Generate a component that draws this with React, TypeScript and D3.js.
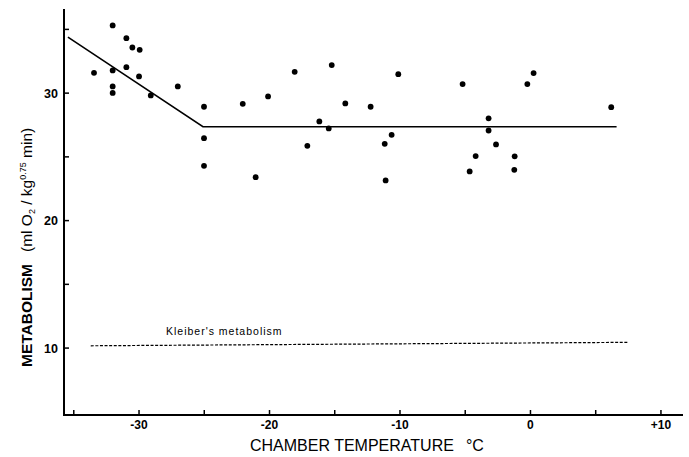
import * as d3 from "d3";

// chamber temperature (°C) and metabolism (ml O2 / kg^0.75 min) per measurement
const temps = [
  -33.45, -32.02, -30.97, -30.51, -29.95, -32.02, -30.97, -30.0, -32.02, -32.02,
  -29.1, -27.03, -25.02, -25.02, -25.02, -22.05, -21.06, -20.11, -18.07, -17.1,
  -16.18, -15.46, -15.23, -14.19, -12.25, -10.13, -10.64, -11.17, -11.1, -5.2,
  -3.21, -3.21, -2.64, -4.2, -4.66, -1.21, -1.24, -0.24, 0.24, 6.19,
];
const metabolism = [
  31.59, 35.31, 34.31, 33.58, 33.4, 31.78, 32.04, 31.31, 30.53, 30.02,
  29.82, 30.53, 28.93, 26.47, 24.3, 29.16, 23.41, 29.74, 31.67, 25.87,
  27.78, 27.23, 32.2, 29.19, 28.93, 31.49, 26.73, 26.02, 23.15, 30.71,
  28.02, 27.07, 25.98, 25.06, 23.86, 25.04, 23.98, 30.71, 31.57, 28.9,
];

// broken-stick fit
const fitTemps = [-35.45, -25.1, 6.6];
const fitValues = [34.4, 27.36, 27.36];

// Kleiber's predicted metabolism
const kleiberTemps = [-33.7, 7.5];
const kleiberValues = [10.18, 10.45];

const xMajor = [-30, -20, -10, 0, 10];
const xMajorLabels = ["-30", "-20", "-10", "0", "+10"];
const xMinor = [-35, -25, -15, -5, 5];
const yMajor = [10, 20, 30];
const yMinor = [15, 25, 35];

const W = 689;
const H = 457;
const font = "'Liberation Sans', Arial, sans-serif";

export default function App() {
  const x = d3.scaleLinear().domain([-35.75, 11.69]).range([64, 683]);
  const y = d3.scaleLinear().domain([4.75, 36.6]).range([415, 9]);

  const line = d3
    .line<number>()
    .x((_, i) => x(fitTemps[i]))
    .y((d) => y(d));
  const kLine = d3
    .line<number>()
    .x((_, i) => x(kleiberTemps[i]))
    .y((d) => y(d));

  const [x0, x1] = x.range();
  const [yb, yt] = y.range();

  return (
    <svg
      width={W}
      height={H}
      style={{ position: "absolute", left: 0, top: 0, background: "#fff" }}
      fontFamily={font}
    >
      {/* axes */}
      <line x1={x0} x2={x0} y1={yt} y2={yb + 1} stroke="#000" strokeWidth={2} />
      <line x1={x0 - 1} x2={x1} y1={yb} y2={yb} stroke="#000" strokeWidth={2} />

      {xMajor.concat(xMinor).map((t) => (
        <line key={"xt" + t} x1={x(t)} x2={x(t)} y1={yb} y2={yb - 5} stroke="#000" strokeWidth={1.5} />
      ))}
      {yMajor.concat(yMinor).map((t) => (
        <line key={"yt" + t} x1={x0} x2={x0 + 5} y1={y(t)} y2={y(t)} stroke="#000" strokeWidth={1.5} />
      ))}

      {xMajor.map((t, i) => (
        <text key={"xl" + t} x={x(t)} y={429} textAnchor="middle" fontSize={12} fontWeight="bold">
          {xMajorLabels[i]}
        </text>
      ))}
      {yMajor.map((t) => (
        <text key={"yl" + t} x={58} y={y(t) + 4.5} textAnchor="end" fontSize={12.5} fontWeight="bold">
          {t}
        </text>
      ))}

      {/* axis titles */}
      <text x={250} y={451} fontSize={16}>
        CHAMBER TEMPERATURE
        <tspan dx={12}>°C</tspan>
      </text>
      <text transform="translate(32,367) rotate(-90)" fontSize={15.5}>
        <tspan fontWeight="bold">METABOLISM</tspan>
        <tspan dx={12}>(ml O</tspan>
        <tspan fontSize={9} dy={3}>2</tspan>
        <tspan dy={-3}> / kg</tspan>
        <tspan fontSize={9} dy={-6}>0.75</tspan>
        <tspan dy={6}> min)</tspan>
      </text>

      {/* fitted line */}
      <path d={line(fitValues) ?? ""} fill="none" stroke="#000" strokeWidth={1.6} />

      {/* Kleiber */}
      <path
        d={kLine(kleiberValues) ?? ""}
        fill="none"
        stroke="#000"
        strokeWidth={1.2}
        strokeDasharray="3 1.6"
      />
      <text x={166} y={334.5} fontSize={10.5} letterSpacing={1} fontWeight={500}>
        Kleiber's metabolism
      </text>

      {/* measurements */}
      {temps.map((t, i) => (
        <circle key={"p" + i} cx={x(t)} cy={y(metabolism[i])} r={2.9} fill="#000" />
      ))}
    </svg>
  );
}
